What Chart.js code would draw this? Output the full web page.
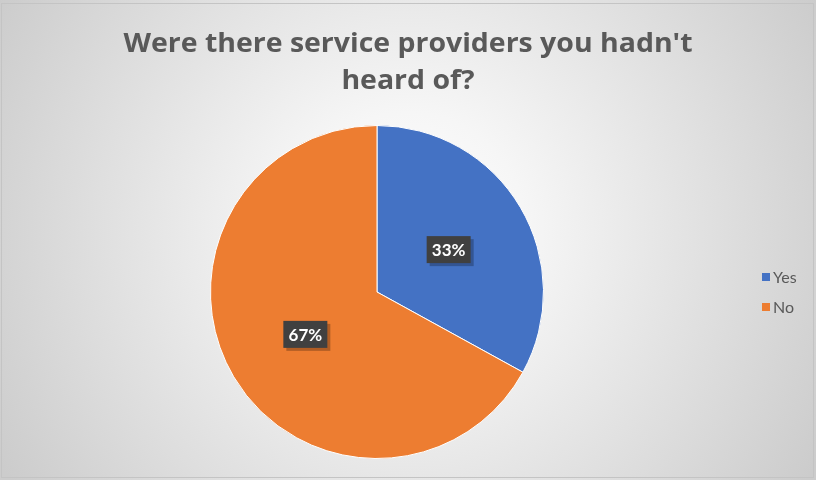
<!DOCTYPE html>
<html><head><meta charset="utf-8">
<script src="https://cdn.jsdelivr.net/npm/chart.js@4"></script>
<style>html,body{margin:0;padding:0;background:#fff}#wrap{width:816px;height:480px}</style>
</head><body><div id="wrap"><canvas id="c" width="816" height="480"></canvas></div>
<script>
const titleLines = ["Were there service providers you hadn't", "heard of?"];
const categories = ["Yes", "No"];
const values = [33, 67];
const colors = ["#4472C4", "#ED7D31"];
const FONT = "Lato, 'Open Sans', sans-serif";
const TFONT = "'Open Sans', Lato, sans-serif";

const bgPlugin = {
  id: 'bg',
  beforeDraw(chart) {
    const ctx = chart.ctx;
    ctx.save();
    const g = ctx.createRadialGradient(408, 230, 0, 408, 230, 470);
    g.addColorStop(0, '#ffffff');
    g.addColorStop(0.25, '#f6f6f6');
    g.addColorStop(1, '#cccccc');
    ctx.fillStyle = g;
    ctx.fillRect(0, 0, chart.width, chart.height);
    ctx.strokeStyle = '#c4c4c4';
    ctx.lineWidth = 1;
    ctx.strokeRect(1.5, 3.5, 812, 474);
    // title
    ctx.fillStyle = '#595959';
    ctx.font = "bold 27px " + TFONT;
    ctx.textAlign = 'center';
    ctx.textBaseline = 'middle';
    const w = ctx.measureText(titleLines[0]).width;
    const sx = 569 / w;
    ctx.save();
    ctx.translate(408, 0);
    ctx.scale(sx, 1);
    ctx.fillText(titleLines[0], 0, 44);
    ctx.fillText(titleLines[1], 0, 81);
    ctx.restore();
    ctx.restore();
  },
  afterDraw(chart) {
    const ctx = chart.ctx;
    const meta = chart.getDatasetMeta(0);
    const total = values.reduce((a, b) => a + b, 0);
    ctx.save();
    ctx.font = "bold 17px " + FONT;
    ctx.textAlign = 'center';
    ctx.textBaseline = 'middle';
    meta.data.forEach((arc, i) => {
      const p = arc.tooltipPosition();
      const txt = Math.round(values[i] / total * 100) + '%';
      const w = 44, h = 27;
      ctx.fillStyle = 'rgba(0,0,0,0.25)';
      ctx.fillRect(p.x - w / 2 + 3, p.y - h / 2 + 3, w, h);
      ctx.fillStyle = '#404040';
      ctx.fillRect(p.x - w / 2, p.y - h / 2, w, h);
      ctx.fillStyle = '#ffffff';
      ctx.fillText(txt, p.x, p.y + 1);
    });
    // legend
    ctx.font = "16px " + FONT;
    ctx.textAlign = 'left';
    categories.forEach((c, i) => {
      const y = 277 + i * 30;
      ctx.fillStyle = colors[i];
      ctx.fillRect(762, y - 4, 8, 8);
      ctx.fillStyle = '#595959';
      ctx.fillText(c, 773, y + 1);
    });
    ctx.restore();
  }
};

new Chart(document.getElementById('c'), {
  type: 'pie',
  data: {
    labels: categories,
    datasets: [{ data: values, backgroundColor: colors, borderColor: '#ffffff', borderWidth: 1 }]
  },
  options: {
    responsive: false,
    animation: false,
    layout: { padding: { left: 210, right: 272, top: 125, bottom: 21 } },
    plugins: { legend: { display: false }, title: { display: false }, tooltip: { enabled: false } }
  },
  plugins: [bgPlugin]
});
</script></body></html>
